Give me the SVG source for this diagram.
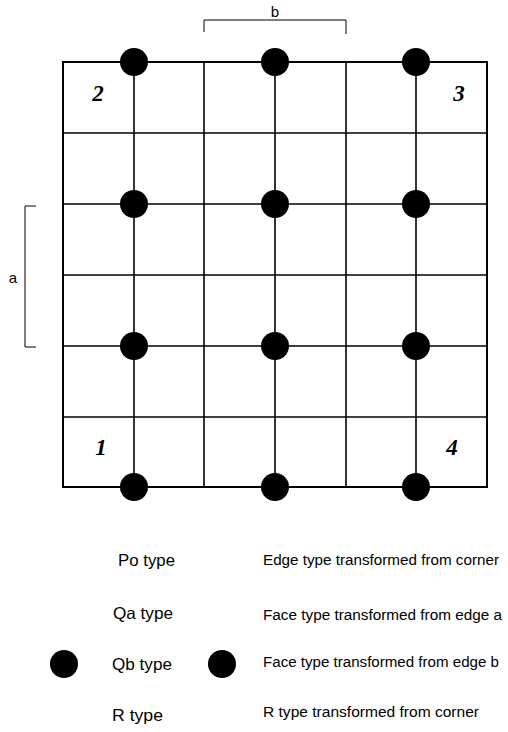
<svg xmlns="http://www.w3.org/2000/svg" width="508" height="732" viewBox="0 0 508 732">
<style>
.grid line{stroke:#000;stroke-width:1.6}
.frame{fill:none;stroke:#000;stroke-width:2}
.dot{fill:#000}
.dim{fill:none;stroke:#000;stroke-width:1}
.num{font-family:"Liberation Serif",serif;font-style:italic;font-weight:bold;font-size:23px;fill:#000}
.lbl{font-family:"Liberation Sans",Arial,sans-serif;font-size:15px;fill:#000}
.leg{font-family:"Liberation Sans",Arial,sans-serif;font-size:16.5px;fill:#000}
.legr{font-family:"Liberation Sans",Arial,sans-serif;font-size:15.2px;fill:#000}
</style>
<rect width="508" height="732" fill="#fff"/>
<g id="connectors" class="grid">
<rect class="frame" x="63" y="62" width="424" height="425"/>
<line x1="134" y1="62" x2="134" y2="487"/>
<line x1="204" y1="62" x2="204" y2="487"/>
<line x1="275" y1="62" x2="275" y2="487"/>
<line x1="346" y1="62" x2="346" y2="487"/>
<line x1="416" y1="62" x2="416" y2="487"/>
<line x1="63" y1="133" x2="487" y2="133"/>
<line x1="63" y1="204" x2="487" y2="204"/>
<line x1="63" y1="275" x2="487" y2="275"/>
<line x1="63" y1="346" x2="487" y2="346"/>
<line x1="63" y1="417" x2="487" y2="417"/>
</g>
<g id="dim-b">
<polyline class="dim" points="204,32 204,20 346,20 346,34"/>
<text class="lbl" x="275" y="17" text-anchor="middle">b</text>
</g>
<g id="dim-a">
<polyline class="dim" points="36,206 25,206 25,347 36,347"/>
<text class="lbl" x="13" y="283" text-anchor="middle">a</text>
</g>
<g id="corner-2"><text class="num" x="98" y="101" text-anchor="middle">2</text></g>
<g id="corner-3"><text class="num" x="459" y="101" text-anchor="middle">3</text></g>
<g id="corner-1"><text class="num" x="101" y="455" text-anchor="middle">1</text></g>
<g id="corner-4"><text class="num" x="452" y="455" text-anchor="middle">4</text></g>
<g id="dot-r1c1"><circle class="dot" cx="134" cy="62" r="14"/></g>
<g id="dot-r1c2"><circle class="dot" cx="275" cy="62" r="14"/></g>
<g id="dot-r1c3"><circle class="dot" cx="416" cy="62" r="14"/></g>
<g id="dot-r2c1"><circle class="dot" cx="134" cy="204" r="14"/></g>
<g id="dot-r2c2"><circle class="dot" cx="275" cy="204" r="14"/></g>
<g id="dot-r2c3"><circle class="dot" cx="416" cy="204" r="14"/></g>
<g id="dot-r3c1"><circle class="dot" cx="134" cy="346" r="14"/></g>
<g id="dot-r3c2"><circle class="dot" cx="275" cy="346" r="14"/></g>
<g id="dot-r3c3"><circle class="dot" cx="416" cy="346" r="14"/></g>
<g id="dot-r4c1"><circle class="dot" cx="134" cy="487" r="14"/></g>
<g id="dot-r4c2"><circle class="dot" cx="275" cy="487" r="14"/></g>
<g id="dot-r4c3"><circle class="dot" cx="416" cy="487" r="14"/></g>
<g id="legend">
<text class="leg" x="118" y="566" textLength="57" lengthAdjust="spacingAndGlyphs">Po type</text>
<text class="leg" x="113" y="619" textLength="60" lengthAdjust="spacingAndGlyphs">Qa type</text>
<text class="leg" x="112" y="670" textLength="60" lengthAdjust="spacingAndGlyphs">Qb type</text>
<text class="leg" x="112" y="721" textLength="51" lengthAdjust="spacingAndGlyphs">R type</text>
<text class="legr" x="263" y="565" textLength="236" lengthAdjust="spacingAndGlyphs">Edge type transformed from corner</text>
<text class="legr" x="263" y="620" textLength="239" lengthAdjust="spacingAndGlyphs">Face type transformed from edge a</text>
<text class="legr" x="263" y="667" textLength="236" lengthAdjust="spacingAndGlyphs">Face type transformed from edge b</text>
<text class="legr" x="263" y="717" textLength="216" lengthAdjust="spacingAndGlyphs">R type transformed from corner</text>
<circle class="dot" cx="64" cy="664" r="14"/>
<circle class="dot" cx="222" cy="664" r="14"/>
</g>
</svg>
